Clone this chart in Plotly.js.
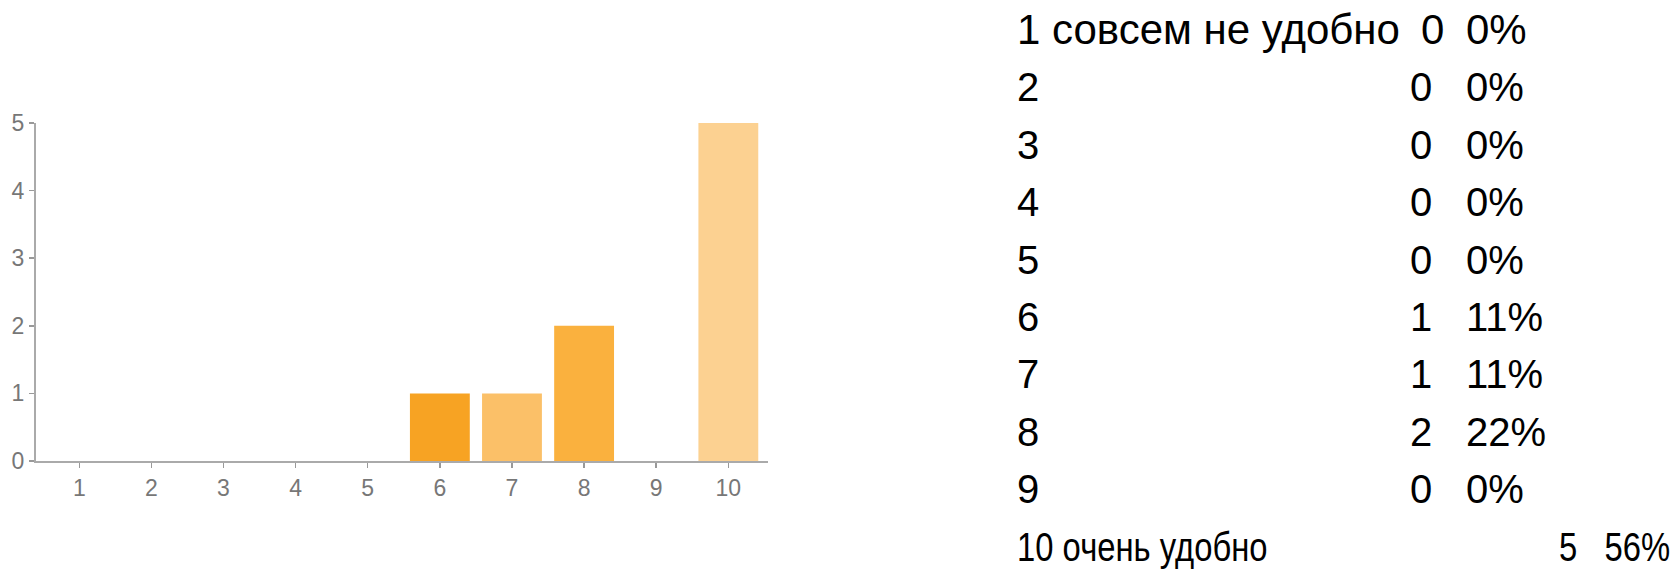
<!DOCTYPE html>
<html>
<head>
<meta charset="utf-8">
<script src="https://cdn.plot.ly/plotly-3.0.1.min.js"></script>
<style>
  html, body { margin: 0; padding: 0; background: #ffffff; }
  #chart { width: 1678px; height: 570px; }
</style>
</head>
<body>
<div id="chart"></div>
<script>
// ---- data ----
const categories = ['1', '2', '3', '4', '5', '6', '7', '8', '9', '10'];
const counts = [0, 0, 0, 0, 0, 1, 1, 2, 0, 5];
const yTicks = [0, 1, 2, 3, 4, 5];
const tableLabels = ['1 совсем не удобно', '2', '3', '4', '5', '6', '7', '8', '9', '10 очень удобно'];
const tableCounts = ['0', '0', '0', '0', '0', '1', '1', '2', '0', '5'];
const tablePercents = ['0%', '0%', '0%', '0%', '0%', '11%', '11%', '22%', '0%', '56%'];

// ---- styles ----
const barPalette = ['#F7A323', '#FBC068', '#FAB13E', '#F7A323', '#FBC068',
                    '#F7A323', '#FBC068', '#FAB13E', '#F7A323', '#FCD191'];
const W = 1678, H = 570;
const px = v => v / W;
const py = v => 1 - v / H;

const xVals = categories.map(Number);

const trace = {
  type: 'bar',
  x: xVals,
  y: counts,
  width: 0.83,
  marker: { color: barPalette, line: { width: 0 } },
  hoverinfo: 'x+y'
};

const annotations = [];
const squeeze = [];
const rowY = i => 30 + 57.4 * i;
tableLabels.forEach((lab, i) => {
  const isFirst = i === 0, isLast = i === tableLabels.length - 1;
  const fam = 'Liberation Sans, Arial, sans-serif';
  const size = isFirst ? 42 : 40;
  let cx = 1421, pxl = 1464, panchor = 'left';
  if (isFirst) { cx = 1432; }
  if (isLast) { cx = 1568; pxl = 1672; panchor = 'right'; }
  const items = [
    { x: 1015, anchor: 'left', text: lab },
    { x: cx, anchor: 'center', text: tableCounts[i] },
    { x: pxl, anchor: panchor, text: tablePercents[i] }
  ];
  items.forEach(it => {
    if (isLast) squeeze.push({ idx: annotations.length, anchor: it.anchor });
    annotations.push({
      xref: 'paper', yref: 'paper', x: px(it.x), y: py(rowY(i)),
      xanchor: it.anchor, yanchor: 'middle', showarrow: false,
      text: it.text, font: { family: fam, size: size, color: '#000' }
    });
  });
});

const axisFont = { family: 'Liberation Sans, Arial, sans-serif', size: 23, color: '#777777' };

const layout = {
  width: W, height: H,
  margin: { l: 0, r: 0, t: 0, b: 0 },
  paper_bgcolor: '#ffffff',
  plot_bgcolor: '#ffffff',
  showlegend: false,
  xaxis: {
    domain: [px(36), px(768)],
    range: [0.4, 10.55],
    tickmode: 'array', tickvals: xVals, ticktext: categories,
    ticks: 'outside', ticklen: 5, tickwidth: 1.5, tickcolor: '#999999',
    showline: true, linecolor: '#aaaaaa', linewidth: 2,
    showgrid: false, zeroline: false,
    tickfont: axisFont, fixedrange: true
  },
  yaxis: {
    domain: [1 - 461 / H, 1 - 123 / H],
    range: [0, 5],
    tickmode: 'array', tickvals: yTicks, ticktext: yTicks.map(String),
    ticks: 'outside', ticklen: 5, tickwidth: 1.5, tickcolor: '#999999',
    showline: true, linecolor: '#aaaaaa', linewidth: 2,
    showgrid: false, zeroline: false,
    tickfont: axisFont, fixedrange: true
  },
  annotations: annotations
};

Plotly.newPlot('chart', [trace], layout, { displayModeBar: false, staticPlot: true }).then(() => {
  // the last table row is set in a horizontally condensed face in the original
  const sx = 0.82;
  squeeze.forEach(s => {
    const g = document.querySelector('#chart .annotation[data-index="' + s.idx + '"] text.annotation-text');
    if (!g) return;
    const bb = g.getBBox();
    const ax = s.anchor === 'left' ? bb.x : (s.anchor === 'right' ? bb.x + bb.width : bb.x + bb.width / 2);
    g.setAttribute('transform', 'translate(' + ax + ',0) scale(' + sx + ',1) translate(' + (-ax) + ',0)');
  });
});
</script>
</body>
</html>
